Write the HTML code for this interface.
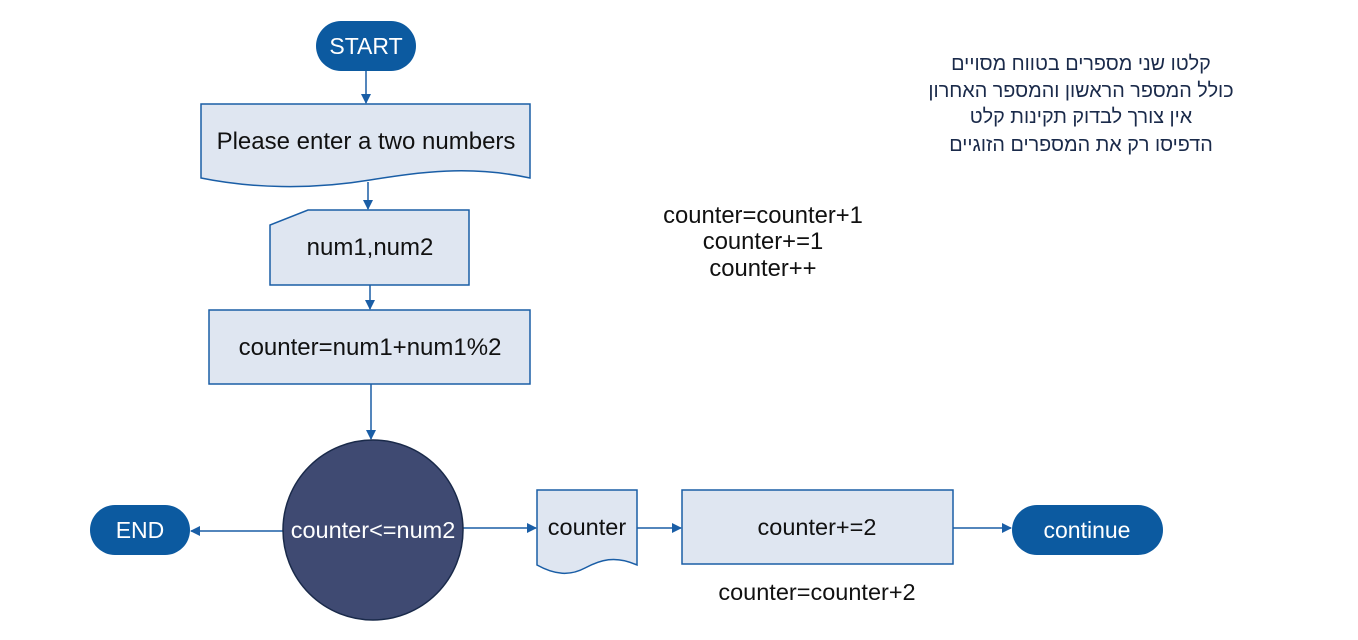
<!DOCTYPE html>
<html><head><meta charset="utf-8"><style>
html,body{margin:0;padding:0;background:#fff;width:1358px;height:640px;overflow:hidden}
text{font-family:"Liberation Sans","Noto Sans CJK SC",sans-serif}
</style></head><body>
<svg width="1358" height="640" viewBox="0 0 1358 640" xmlns="http://www.w3.org/2000/svg">
<defs><marker id="a" markerWidth="10" markerHeight="10" refX="9" refY="5" orient="auto" markerUnits="userSpaceOnUse"><path d="M0,0 L10,5 L0,10 z" fill="#1a5ea6"/></marker></defs>
<g stroke="#1a5ea6" stroke-width="1.5" fill="none">
<line x1="366" y1="71" x2="366" y2="103" marker-end="url(#a)"/>
<line x1="368" y1="182" x2="368" y2="209" marker-end="url(#a)"/>
<line x1="370" y1="285" x2="370" y2="309" marker-end="url(#a)"/>
<line x1="371" y1="384" x2="371" y2="439" marker-end="url(#a)"/>
<line x1="283" y1="531" x2="191" y2="531" marker-end="url(#a)"/>
<line x1="463" y1="528" x2="536" y2="528" marker-end="url(#a)"/>
<line x1="637" y1="528" x2="681" y2="528" marker-end="url(#a)"/>
<line x1="953" y1="528" x2="1011" y2="528" marker-end="url(#a)"/>
</g>
<rect x="316" y="21" width="100" height="50" rx="25" fill="#0c5aa0"/>
<text x="366" y="54" font-size="23" fill="#fff" text-anchor="middle">START</text>
<path d="M201,104 H530 V178 C470,165 420,172 370,180 C310,190 250,188 201,178 Z" fill="#dfe6f1" stroke="#1a5ea6" stroke-width="1.5"/>
<text x="366" y="149" font-size="24" fill="#111" text-anchor="middle">Please enter a two numbers</text>
<path d="M308,210 H469 V285 H270 V225 Z" fill="#dfe6f1" stroke="#1a5ea6" stroke-width="1.5"/>
<text x="370" y="255" font-size="24" fill="#111" text-anchor="middle">num1,num2</text>
<rect x="209" y="310" width="321" height="74" fill="#dfe6f1" stroke="#1a5ea6" stroke-width="1.5"/>
<text x="370" y="355" font-size="24" fill="#111" text-anchor="middle">counter=num1+num1%2</text>
<circle cx="373" cy="530" r="90" fill="#3f4a72" stroke="#1a2a4a" stroke-width="1.5"/>
<text x="373" y="538" font-size="23.5" fill="#fff" text-anchor="middle">counter&lt;=num2</text>
<rect x="90" y="505" width="100" height="50" rx="25" fill="#0c5aa0"/>
<text x="140" y="538" font-size="23" fill="#fff" text-anchor="middle">END</text>
<path d="M537,490 H637 V565 C615,555 600,560 585,568 C570,576 555,575 537,565 Z" fill="#dfe6f1" stroke="#1a5ea6" stroke-width="1.5"/>
<text x="587" y="535" font-size="23.5" fill="#111" text-anchor="middle">counter</text>
<rect x="682" y="490" width="271" height="74" fill="#dfe6f1" stroke="#1a5ea6" stroke-width="1.5"/>
<text x="817" y="535" font-size="23.5" fill="#111" text-anchor="middle">counter+=2</text>
<rect x="1012" y="505" width="151" height="50" rx="25" fill="#0c5aa0"/>
<text x="1087" y="538" font-size="23" fill="#fff" text-anchor="middle">continue</text>
<text x="817" y="600" font-size="23.5" fill="#111" text-anchor="middle">counter=counter+2</text>
<g font-size="23.8" fill="#111" text-anchor="middle">
<text x="763" y="223">counter=counter+1</text>
<text x="763" y="249">counter+=1</text>
<text x="763" y="276">counter++</text>
</g>
<g font-size="19.8" fill="#1a2a4a" text-anchor="middle" direction="rtl">
<text x="1081" y="70">קלטו שני מספרים בטווח מסויים</text>
<text x="1081" y="97">כולל המספר הראשון והמספר האחרון</text>
<text x="1081" y="123">אין צורך לבדוק תקינות קלט</text>
<text x="1081" y="151">הדפיסו רק את המספרים הזוגיים</text>
</g>
</svg>
</body></html>
